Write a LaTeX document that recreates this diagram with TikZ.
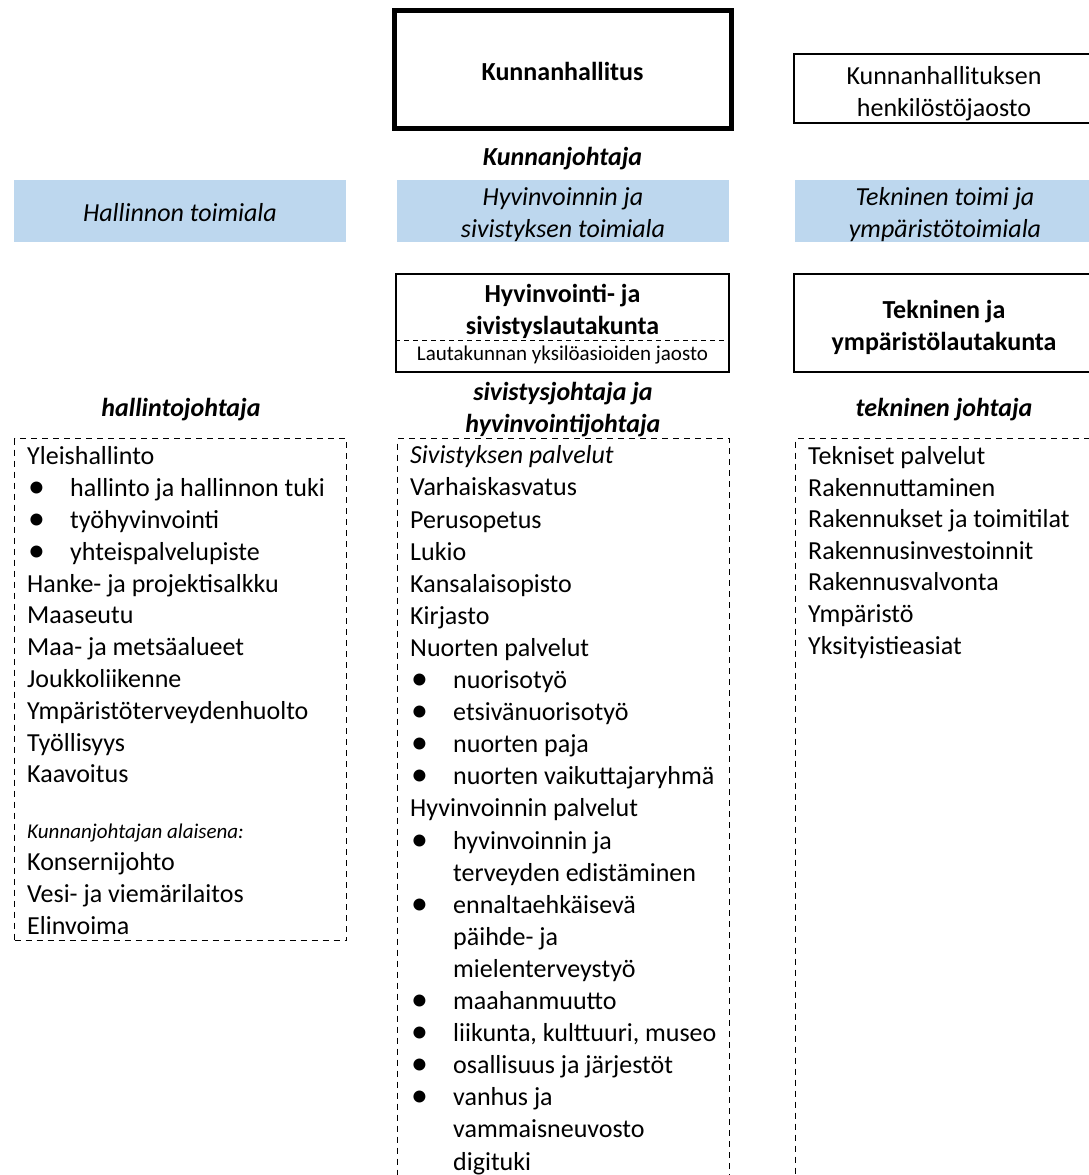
\documentclass[tikz,border=0pt]{standalone}
\usepackage{fontspec}
\setmainfont{Carlito}
\usetikzlibrary{positioning}
\definecolor{alablue}{RGB}{189,215,238}
\newcommand{\grund}{\fontsize{26}{32.1}\selectfont}
\newcommand{\pieni}{\fontsize{21}{24}\selectfont}
\newcommand{\kohta}[1]{\makebox[43pt][l]{\hspace{1pt}\raisebox{-1pt}{\scalebox{1.3}{\textbullet}}}#1}
\newcommand{\jatko}[1]{\hspace*{43pt}#1}
\tikzstyle{board} = [draw, rectangle, line width=1.3pt, inner sep=0pt]
\tikzstyle{field} = [fill=alablue, rectangle, minimum height=62pt, inner sep=0pt]
\tikzstyle{txt} = [align=center, inner sep=0pt, font=\grund]
\tikzstyle{head} = [align=center, inner sep=0pt, font=\grund\bfseries\itshape]
\tikzstyle{listbox} = [draw, rectangle, line width=1.2pt, dash pattern=on 6pt off 5pt,
    anchor=north west, inner sep=0pt]
\tikzstyle{items} = [anchor=base west, align=left, inner sep=0pt, font=\grund]

\begin{document}
\begin{tikzpicture}[x=1pt, y=-1pt, node distance=32pt]
    \useasboundingbox (0,0) rectangle (1089,1175);
    % ylin taso
    \node [board, line width=5pt, minimum width=337pt, minimum height=118pt] (khall) at (562.5,69) {};
    \node [txt, font=\grund\bfseries] (khteksti) at ([yshift=-2pt]khall.center) {Kunnanhallitus};
    \node [board, minimum width=300pt, minimum height=69pt] (hjaosto) at (944,88.5) {};
    \node [txt] (hjteksti) at ([yshift=-5pt]hjaosto.center) {Kunnanhallituksen\\henkilöstöjaosto};
    \node [head, below of=khall, node distance=90pt] (kjoht) {Kunnanjohtaja};
    % toimialat
    \node [field, minimum width=332pt] (hallala) at (180,211) {};
    \node [field, minimum width=332pt] (hvala) at (563,211) {};
    \node [field, minimum width=300pt] (tekala) at (945,211) {};
    \node [txt, font=\grund\itshape] (hallteksti) at ([yshift=-2pt]hallala.center) {Hallinnon toimiala};
    \node [txt, font=\grund\itshape] (hvteksti) at ([yshift=-3.5pt]hvala.center) {Hyvinvoinnin ja\\sivistyksen toimiala};
    \node [txt, font=\grund\itshape] (tekteksti) at ([yshift=-3.5pt]tekala.center) {Tekninen toimi ja\\ympäristötoimiala};
    % lautakunnat
    \node [board, minimum width=333pt, minimum height=98pt] (hvlauta) at (562.5,323) {};
    \node [txt, font=\grund\bfseries] (hvnimi) at (562.5,311) {Hyvinvointi- ja\\sivistyslautakunta};
    \coordinate (jako) at (562.5,340);
    \draw [line width=1pt, dash pattern=on 5pt off 4pt] (hvlauta.west |- jako) -- (hvlauta.east |- jako);
    \node [txt, font=\pieni] (jaosto) at (562.5,355.5) {Lautakunnan yksilöasioiden jaosto};
    \node [board, minimum width=300pt, minimum height=98pt] (teklauta) at (944,323) {};
    \node [txt, font=\grund\bfseries] (teknimi) at (944,327) {Tekninen ja\\ympäristölautakunta};
    % johtajat
    \node [head] (hjoht) at (181,410) {hallintojohtaja};
    \node [head] (sjoht) at (563,410) {sivistysjohtaja ja\\hyvinvointijohtaja};
    \node [head] (tjoht) at (944,410) {tekninen johtaja};
    % tehtavalistat
    \node [listbox, minimum width=332pt, minimum height=502pt] (hlista) at (14,438) {};
    \node [listbox, minimum width=332pt, minimum height=750pt] (slista) at (397,438) {};
    \node [listbox, minimum width=300pt, minimum height=750pt] (tlista) at (795,438) {};
    \node [items, font=\fontsize{26}{31.8}\selectfont] (hrivit) at (27,934) {Yleishallinto\\
        \kohta{hallinto ja hallinnon tuki}\\
        \kohta{työhyvinvointi}\\
        \kohta{yhteispalvelupiste}\\
        Hanke- ja projektisalkku\\
        Maaseutu\\
        Maa- ja metsäalueet\\
        Joukkoliikenne\\
        Ympäristöterveydenhuolto\\
        Työllisyys\\
        Kaavoitus\\[24pt]
        {\pieni\itshape Kunnanjohtajan alaisena:}\\
        Konsernijohto\\
        Vesi- ja viemärilaitos\\
        Elinvoima};
    \node [items] (srivit) at (410,1170) {\textit{Sivistyksen palvelut}\\
        Varhaiskasvatus\\
        Perusopetus\\
        Lukio\\
        Kansalaisopisto\\
        Kirjasto\\
        Nuorten palvelut\\
        \kohta{nuorisotyö}\\
        \kohta{etsivänuorisotyö}\\
        \kohta{nuorten paja}\\
        \kohta{nuorten vaikuttajaryhmä}\\
        Hyvinvoinnin palvelut\\
        \kohta{hyvinvoinnin ja}\\
        \jatko{terveyden edistäminen}\\
        \kohta{ennaltaehkäisevä}\\
        \jatko{päihde- ja}\\
        \jatko{mielenterveystyö}\\
        \kohta{maahanmuutto}\\
        \kohta{liikunta, kulttuuri, museo}\\
        \kohta{osallisuus ja järjestöt}\\
        \kohta{vanhus ja}\\
        \jatko{vammaisneuvosto}\\
        \jatko{digituki}};
    \node [items, font=\fontsize{26}{31.6}\selectfont] (trivit) at (808,654) {Tekniset palvelut\\
        Rakennuttaminen\\
        Rakennukset ja toimitilat\\
        Rakennusinvestoinnit\\
        Rakennusvalvonta\\
        Ympäristö\\
        Yksityistieasiat};
\end{tikzpicture}
\end{document}
